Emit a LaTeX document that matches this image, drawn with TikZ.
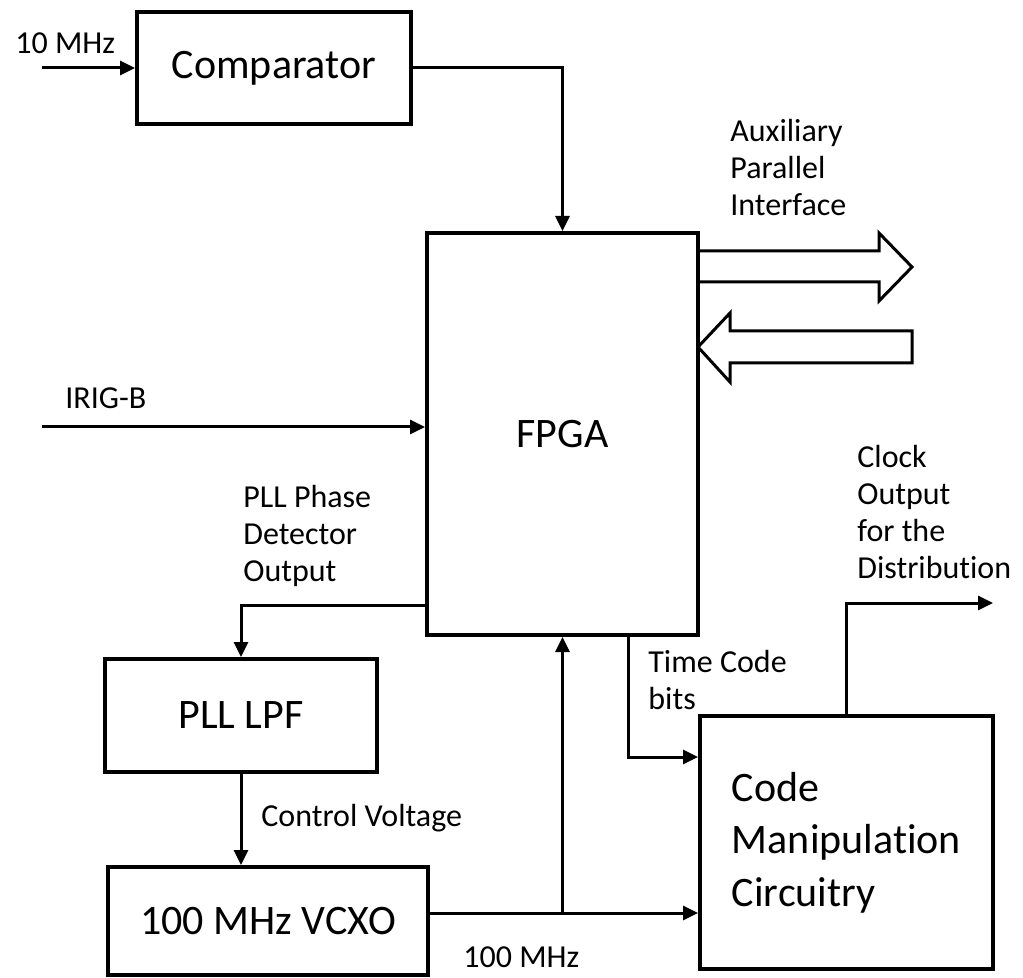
\documentclass[tikz,border=0pt]{standalone}
\usepackage{fontspec}
\setmainfont{Carlito}[Ligatures=NoCommon]
\usetikzlibrary{arrows.meta}
\newcommand{\bigtxt}{\fontsize{21}{26.25}\selectfont}
\newcommand{\smalltxt}{\fontsize{16}{18.5}\selectfont}

\begin{document}
\begin{tikzpicture}[x=0.5pt, y=-0.5pt,
    blockbox/.style={draw, line width=2pt, font=\bigtxt, inner sep=0pt},
    lbl/.style={font=\smalltxt, inner sep=0pt, anchor=west, align=left},
    arr/.style={line width=1.5pt, -{Triangle[length=7.5pt,width=7pt]}},
    bus/.style={line width=1.5pt, line join=miter}]
    \useasboundingbox (0,0) rectangle (1023,978);

    % Blocks
    \node[blockbox, minimum width=137pt, minimum height=56pt] (comp) at (274,68) {Comparator};
    \node[blockbox, minimum width=135.5pt, minimum height=201pt] (fpga) at (562.5,434) {FPGA};
    \node[blockbox, minimum width=136pt, minimum height=56.5pt] (lpf) at (241,715.5) {PLL LPF};
    \node[blockbox, minimum width=160pt, minimum height=54pt] (vcxo) at (268,921) {100 MHz VCXO};
    \node[blockbox, minimum width=146.5pt, minimum height=126.5pt, align=left] (code) at (846.5,842.5)
        {Code\\Manipulation\\Circuitry};

    % Inputs
    \coordinate (ref) at (42,68);
    \coordinate (irig) at (42,427);
    \node[lbl] (reflbl) at (15,43) {10 MHz};
    \node[lbl] (iriglbl) at (65,398) {IRIG-B};
    \draw[arr] (ref) -- (comp.west);
    \draw[arr] (irig) -- (irig -| fpga.west);
    \draw[arr] (comp.east) -| (fpga.north);

    % PLL loop
    \node[lbl] (pdlbl) at (243,536) {PLL Phase\\Detector\\Output};
    \draw[arr] (fpga.south west) ++(0,-32) -| (lpf.north);
    \node[lbl] (cvlbl) at (261,818) {Control Voltage};
    \draw[arr] (lpf.south) -- (lpf.south |- vcxo.north);

    % 100 MHz clock
    \coordinate (clk) at ([yshift=4pt]vcxo.east);
    \node[lbl] (clklbl) at (463,957) {100 MHz};
    \draw[arr] (clk) -- (clk -| code.west);
    \draw[arr] (clk -| fpga.south) -- (fpga.south);

    % Time code bits
    \coordinate (tc) at (628,757);
    \node[lbl] (tclbl) at (648,680) {Time Code\\bits};
    \draw[arr] (fpga.south -| tc) |- (tc -| code.west);

    % Clock output
    \coordinate (out) at (993,603);
    \node[lbl] (outlbl) at (857,512) {Clock\\Output\\for the\\Distribution};
    \draw[arr] (code.north) |- (out);

    % Auxiliary parallel interface
    \node[lbl] (auxlbl) at (730,168) {Auxiliary\\Parallel\\Interface};
    \draw[bus] (698,251) -- (879,251) -- (879,233) -- (912,267) -- (879,301) -- (879,282) -- (698,282);
    \draw[bus] (730,331) -- (912,331) -- (912,363) -- (730,363) -- (730,382) -- (698,347) -- (730,313) -- cycle;
\end{tikzpicture}
\end{document}
